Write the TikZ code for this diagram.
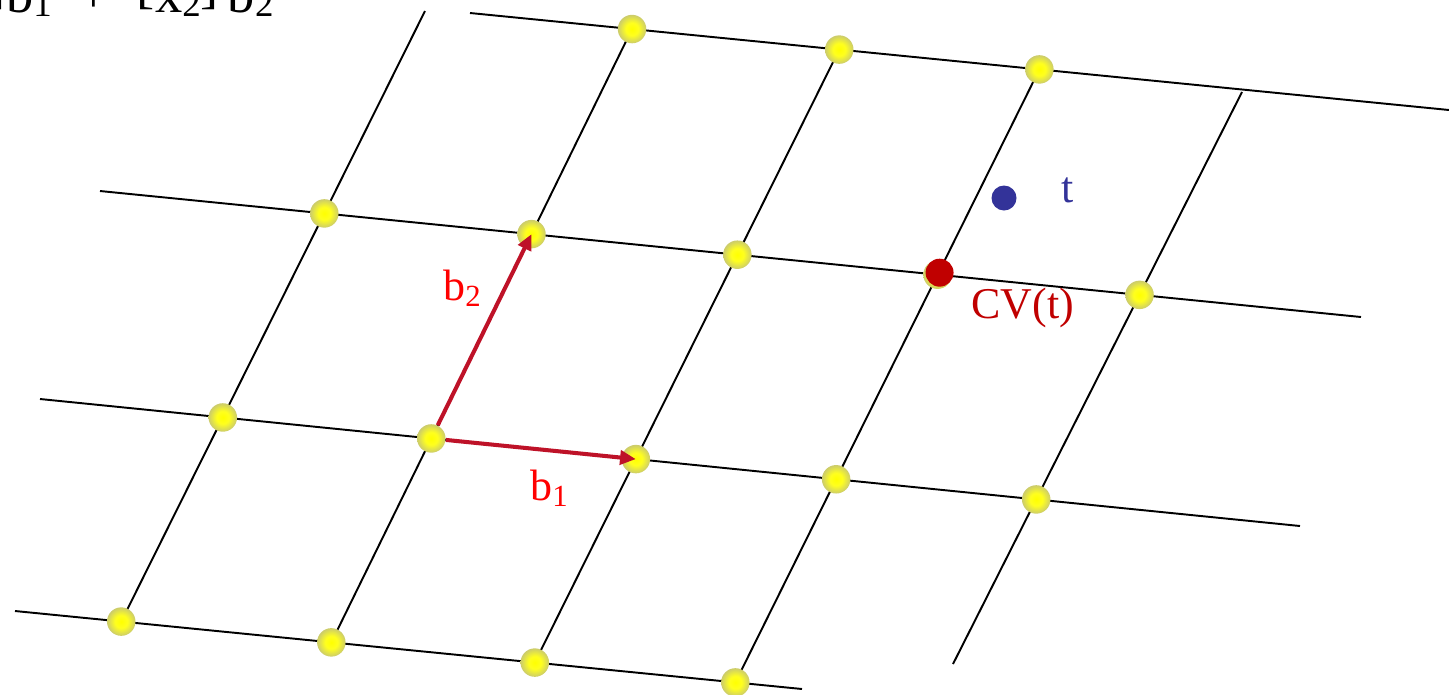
\documentclass[tikz,border=0pt]{standalone}
\usepackage{fontspec}
\setmainfont{Liberation Serif}
\usetikzlibrary{arrows.meta, positioning}

\definecolor{vecred}{RGB}{190,18,40}
\definecolor{lblred}{RGB}{255,0,0}
\definecolor{cvred}{RGB}{192,0,0}
\definecolor{tblue}{RGB}{51,51,153}
\pgfdeclareradialshading{latball}{\pgfpoint{0bp}{0bp}}{rgb(0bp)=(1,1,0); rgb(11bp)=(1,1,0.12); rgb(25bp)=(0.8,0.8,0.42); rgb(50bp)=(0.8,0.8,0.42)}
\newcommand{\lsub}[1]{\raisebox{-0.08em}{\fontsize{21}{21}\selectfont #1}}
\newcommand{\lbrk}[1]{\raisebox{0.18em}{#1}}

\tikzset{
  gridline/.style={line width=1.1pt},
  latpt/.style={circle, inner sep=0pt, minimum size=0.57cm, shading=latball},
  basisvec/.style={vecred, line width=2.3pt, -{Triangle[length=9pt,width=8pt]}},
  lbl/.style={inner sep=0pt, anchor=base west, font=\fontsize{25}{29}\selectfont},
}

\begin{document}
\begin{tikzpicture}[x=0.02cm, y=-0.02cm]
  \useasboundingbox (0,0) rectangle (1449,694);
  \clip (0,0) rectangle (1449,694);

  % ends of the lattice lines
  \coordinate (ra0) at (470,13);  \coordinate (ra1) at (1449,110);
  \coordinate (rb0) at (100,191); \coordinate (rb1) at (1361,317);
  \coordinate (rc0) at (40,399);  \coordinate (rc1) at (1300,526);
  \coordinate (rd0) at (15,611);  \coordinate (rd1) at (802,689);
  \coordinate (c1b) at (118,628); \coordinate (c1t) at (425,11);
  \coordinate (c2b) at (330,645); \coordinate (c2t) at (632,29);
  \coordinate (c3b) at (533,666); \coordinate (c3t) at (838,52);
  \coordinate (c4b) at (735,683); \coordinate (c4t) at (1040,68);
  \coordinate (c5b) at (953,664); \coordinate (c5t) at (1242,92);

  % lattice points
  \coordinate (A2) at (intersection of ra0--ra1 and c2b--c2t);
  \coordinate (A3) at (intersection of ra0--ra1 and c3b--c3t);
  \coordinate (A4) at (intersection of ra0--ra1 and c4b--c4t);
  \coordinate (B1) at (intersection of rb0--rb1 and c1b--c1t);
  \coordinate (B2) at (intersection of rb0--rb1 and c2b--c2t);
  \coordinate (B3) at (intersection of rb0--rb1 and c3b--c3t);
  \coordinate (B4) at (intersection of rb0--rb1 and c4b--c4t);
  \coordinate (B5) at (intersection of rb0--rb1 and c5b--c5t);
  \coordinate (C1) at (intersection of rc0--rc1 and c1b--c1t);
  \coordinate (C2) at (intersection of rc0--rc1 and c2b--c2t);
  \coordinate (C3) at (intersection of rc0--rc1 and c3b--c3t);
  \coordinate (C4) at (intersection of rc0--rc1 and c4b--c4t);
  \coordinate (C5) at (intersection of rc0--rc1 and c5b--c5t);
  \coordinate (D1) at (intersection of rd0--rd1 and c1b--c1t);
  \coordinate (D2) at (intersection of rd0--rd1 and c2b--c2t);
  \coordinate (D3) at (intersection of rd0--rd1 and c3b--c3t);
  \coordinate (D4) at (intersection of rd0--rd1 and c4b--c4t);

  \draw[gridline] (ra0) -- (ra1);
  \draw[gridline] (rb0) -- (rb1);
  \draw[gridline] (rc0) -- (rc1);
  \draw[gridline] (rd0) -- (rd1);
  \draw[gridline] (D1) -- (c1t);
  \draw[gridline] (D2) -- (A2);
  \draw[gridline] (D3) -- (A3);
  \draw[gridline] (D4) -- (A4);
  \draw[gridline] (c5b) -- (c5t);

  \foreach \p in {A2,A3,A4,B1,B2,B3,B4,B5,C1,C2,C3,C4,C5,D1,D2,D3,D4}
    \node[latpt] (p\p) at (\p) {};

  % basis vectors
  \draw[basisvec] (pC2) -- (pB2.center);
  \draw[basisvec] (pC2) -- (pC3.center);

  \node[circle, fill=cvred, inner sep=0pt, minimum size=0.56cm, xshift=0.04cm, yshift=0.04cm] (cv) at (B4) {};
  \node[circle, fill=tblue, inner sep=0pt, minimum size=0.5cm] (target) at (1004,198) {};

  \node[lbl, tblue] (tlbl) at (1061,202) {t};
  \node[lbl, cvred] (cvlbl) at (971,318) {CV(t)};
  \node[lbl, lblred] (b2lbl) at (443,300) {b\textsubscript{2}};
  \node[lbl, lblred] (b1lbl) at (530,500) {b\textsubscript{1}};

  \node[lbl, anchor=base east, font=\fontsize{31}{35}\selectfont] (formula) at (274,12)
    {\lbrk{[}x\lsub{1}\lbrk{]}b\lsub{1}\ \ +\ \ \lbrk{[}x\lsub{2}\lbrk{]}\,b\lsub{2}};
\end{tikzpicture}
\end{document}
